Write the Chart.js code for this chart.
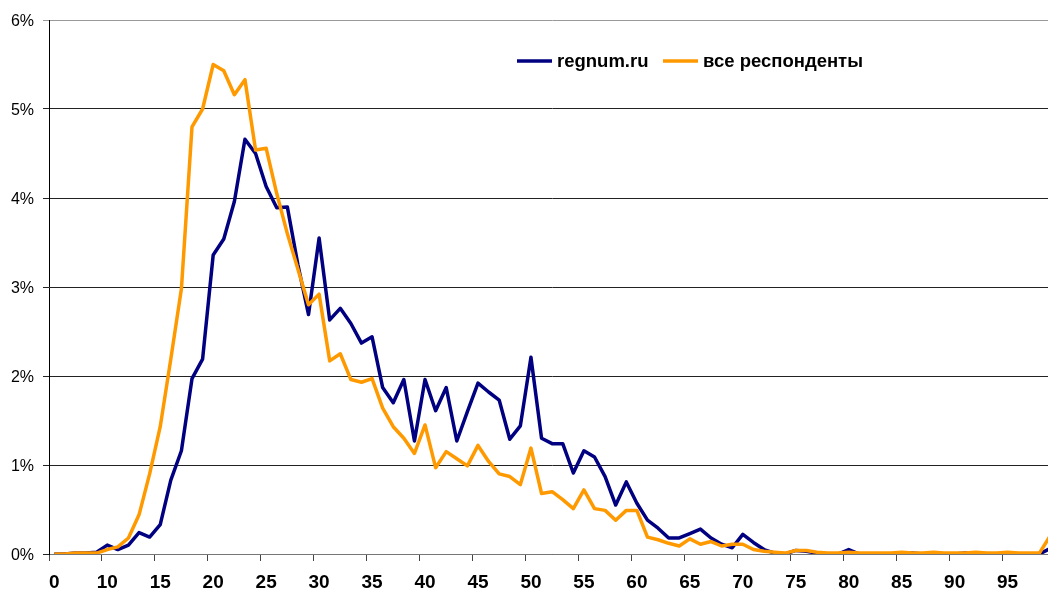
<!DOCTYPE html>
<html>
<head>
<meta charset="utf-8">
<script src="https://cdn.jsdelivr.net/npm/chart.js@4"></script>
<style>
  html, body { margin: 0; padding: 0; background: #fff; overflow: hidden; }
  #wrap { width: 1060px; height: 596px; }
</style>
</head>
<body>
<div id="wrap"><canvas id="ageChart"></canvas></div>
<script>
// возраст респондентов (0 = не указан, далее 6..99)
var ages = ['0','6','7','8','9','10','11','12','13','14','15','16','17','18','19','20',
  '21','22','23','24','25','26','27','28','29','30','31','32','33','34','35','36','37','38','39','40',
  '41','42','43','44','45','46','47','48','49','50','51','52','53','54','55','56','57','58','59','60',
  '61','62','63','64','65','66','67','68','69','70','71','72','73','74','75','76','77','78','79','80',
  '81','82','83','84','85','86','87','88','89','90','91','92','93','94','95','96','97','98','99'];

// доля, %
var regnum = [0.00,0.00,0.01,0.01,0.02,0.10,0.05,0.10,0.24,0.19,0.33,0.83,1.16,1.97,2.19,3.36,
  3.54,3.96,4.66,4.50,4.13,3.89,3.90,3.25,2.69,3.55,2.63,2.76,2.59,2.37,2.44,1.87,1.70,1.96,1.27,1.96,
  1.61,1.87,1.27,1.60,1.92,1.82,1.73,1.29,1.44,2.21,1.30,1.24,1.24,0.91,1.16,1.09,0.87,0.55,0.81,0.57,
  0.38,0.29,0.18,0.18,0.23,0.28,0.18,0.11,0.07,0.22,0.13,0.05,0.01,0.00,0.04,0.03,0.01,0.00,0.00,0.05,
  0.00,0.00,0.00,0.00,0.00,0.01,0.00,0.00,0.00,0.00,0.01,0.00,0.00,0.00,0.00,0.00,0.00,0.00,0.06];

var allResp = [0.00,0.00,0.01,0.01,0.01,0.05,0.08,0.18,0.44,0.90,1.43,2.19,2.98,4.80,5.00,5.50,
  5.43,5.16,5.33,4.54,4.56,4.05,3.60,3.20,2.80,2.92,2.17,2.25,1.96,1.93,1.97,1.64,1.43,1.30,1.13,1.45,
  0.97,1.15,1.07,0.99,1.22,1.04,0.90,0.87,0.78,1.19,0.68,0.70,0.61,0.51,0.72,0.51,0.49,0.38,0.49,0.49,
  0.19,0.16,0.12,0.09,0.17,0.11,0.14,0.09,0.11,0.11,0.05,0.03,0.02,0.01,0.04,0.04,0.02,0.01,0.01,0.02,
  0.01,0.01,0.01,0.01,0.02,0.01,0.01,0.02,0.01,0.01,0.01,0.02,0.01,0.01,0.02,0.01,0.01,0.01,0.20];

var yTicks = [0, 1, 2, 3, 4, 5, 6];

var font = 'Arial, "Liberation Sans", sans-serif';

// легенда внутри области графика
var innerLegend = {
    id: 'innerLegend',
    afterDraw: function(chart) {
        var ctx = chart.ctx;
        var items = [
            { ds: chart.data.datasets[1], x: 517 },
            { ds: chart.data.datasets[0], x: 663 }
        ];
        ctx.save();
        ctx.font = 'bold 18.5px ' + font;
        ctx.textBaseline = 'middle';
        ctx.fillStyle = '#000';
        items.forEach(function(it) {
            ctx.strokeStyle = it.ds.borderColor;
            ctx.lineWidth = 3.5;
            ctx.beginPath();
            ctx.moveTo(it.x, 61);
            ctx.lineTo(it.x + 35, 61);
            ctx.stroke();
            ctx.fillText(it.ds.label, it.x + 40, 62);
        });
        ctx.restore();
    }
};

var ctx = document.getElementById('ageChart').getContext('2d');
var ageChart = new Chart(ctx, {
    type: 'line',
    data: {
        labels: ages,
        datasets: [{
            label: 'все респонденты',
            data: allResp,
            borderColor: '#FF9900',
            borderWidth: 3.5,
            pointRadius: 0,
            tension: 0,
            borderJoinStyle: 'round',
            order: 1
        }, {
            label: 'regnum.ru',
            data: regnum,
            borderColor: '#000080',
            borderWidth: 3.5,
            pointRadius: 0,
            tension: 0,
            borderJoinStyle: 'round',
            order: 2
        }]
    },
    options: {
        responsive: true,
        maintainAspectRatio: false,
        animation: false,
        layout: { padding: { top: 20, right: 4, left: 0, bottom: 0 } },
        plugins: {
            legend: { display: false },
            tooltip: { enabled: false }
        },
        scales: {
            x: {
                offset: true,
                afterFit: function(scale) { scale.height = 42; },
                border: { color: '#777', width: 1 },
                grid: {
                    offset: true,
                    drawOnChartArea: false,
                    tickLength: 7,
                    color: function(c) { return c.index % 5 === 0 ? '#444' : 'rgba(0,0,0,0)'; }
                },
                ticks: {
                    autoSkip: false,
                    maxRotation: 0,
                    padding: 10,
                    color: '#000',
                    font: { family: font, size: 19, weight: 'bold' },
                    callback: function(v, i) { return i % 5 === 0 ? ages[i] : ''; }
                }
            },
            y: {
                min: yTicks[0],
                max: yTicks[yTicks.length - 1],
                afterFit: function(scale) { scale.width = 49; },
                afterBuildTicks: function(scale) {
                    scale.ticks = yTicks.map(function(v) { return { value: v }; });
                },
                border: { color: '#000', width: 1 },
                grid: {
                    tickLength: 6,
                    color: function(c) { return c.tick && c.tick.value === 6 ? '#999' : '#222'; }
                },
                ticks: {
                    padding: 9,
                    labelOffset: 1.5,
                    color: '#000',
                    font: { family: font, size: 16 },
                    callback: function(v) { return v + '%'; }
                }
            }
        }
    },
    plugins: [innerLegend]
});
</script>
</body>
</html>
